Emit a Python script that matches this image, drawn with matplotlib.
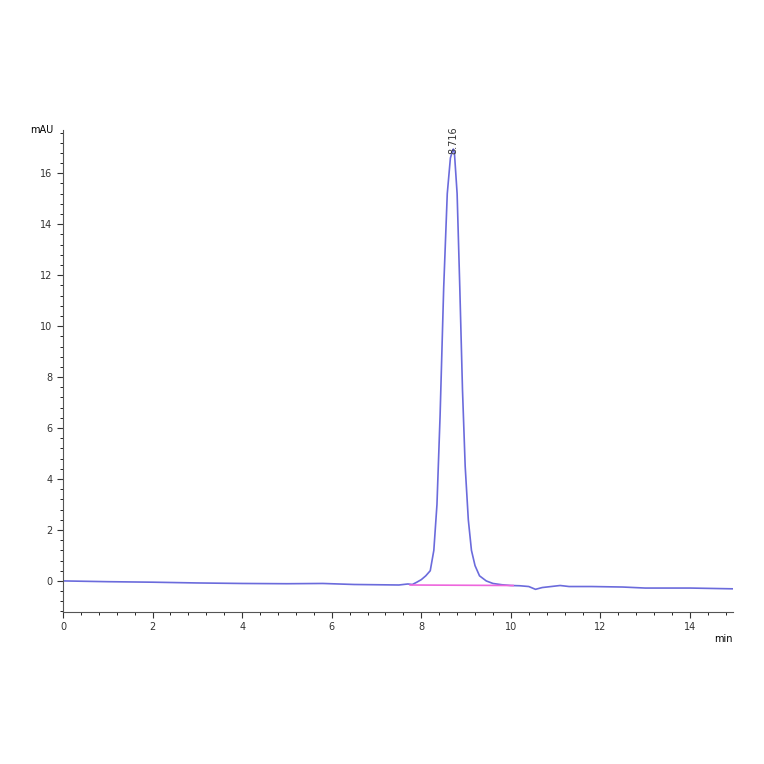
import matplotlib.pyplot as plt
from matplotlib.ticker import MultipleLocator

# retention time (min) and signal (mAU)
time = [0.0, 1.0, 2.0, 3.0, 4.0, 5.0, 5.8, 6.5, 7.0, 7.5, 7.7, 7.8, 7.9, 8.0, 8.1,
        8.2, 8.28, 8.35, 8.42, 8.5, 8.58, 8.65, 8.7, 8.716, 8.74, 8.8, 8.86,
        8.92, 8.98, 9.05, 9.12, 9.2, 9.3, 9.45, 9.6, 9.8, 10.0, 10.2, 10.4,
        10.55, 10.7, 10.9, 11.1, 11.3, 11.8, 12.5, 13.0, 14.0, 14.95]
signal = [0.0, -0.03, -0.05, -0.08, -0.1, -0.11, -0.1, -0.14, -0.15, -0.16, -0.12,
          -0.14, -0.05, 0.05, 0.2, 0.4, 1.2, 3.0, 6.5, 11.5, 15.2, 16.6, 16.9,
          16.95, 16.8, 15.2, 11.5, 7.5, 4.5, 2.4, 1.2, 0.6, 0.2, 0.0, -0.1,
          -0.15, -0.18, -0.19, -0.22, -0.33, -0.26, -0.22, -0.18, -0.22, -0.22,
          -0.24, -0.28, -0.28, -0.31]

baseline_t = [7.75, 10.05]
baseline_y = [-0.16, -0.18]

fig = plt.figure(figsize=(7.64, 7.64), dpi=100)
ax = fig.add_axes([63 / 764, 1 - 612 / 764, 670 / 764, 482 / 764])

ax.plot(time, signal, color="#6b6bdc", lw=1.2)
ax.plot(baseline_t, baseline_y, color="#ee66dd", lw=1.2)
ax.text(8.716, 16.75, "8.716", rotation=90, ha="center", va="bottom", fontsize=7, color="#333333")

ax.set_xlim(0, 14.96)
ax.set_ylim(-1.22, 17.7)
ax.xaxis.set_major_locator(MultipleLocator(2))
ax.xaxis.set_minor_locator(MultipleLocator(0.4))
ax.yaxis.set_major_locator(MultipleLocator(2))
ax.yaxis.set_minor_locator(MultipleLocator(0.4))
ax.tick_params(labelsize=7, colors="#333333", length=4)
ax.tick_params(which="minor", length=2)
for s in ["top", "right"]:
    ax.spines[s].set_visible(False)
for s in ["left", "bottom"]:
    ax.spines[s].set_color("#555555")

ax.text(-0.015, 1.0, "mAU", transform=ax.transAxes, ha="right", va="center", fontsize=7)
ax.text(1.0, -0.045, "min", transform=ax.transAxes, ha="right", va="top", fontsize=7)

fig.savefig("out.png")
